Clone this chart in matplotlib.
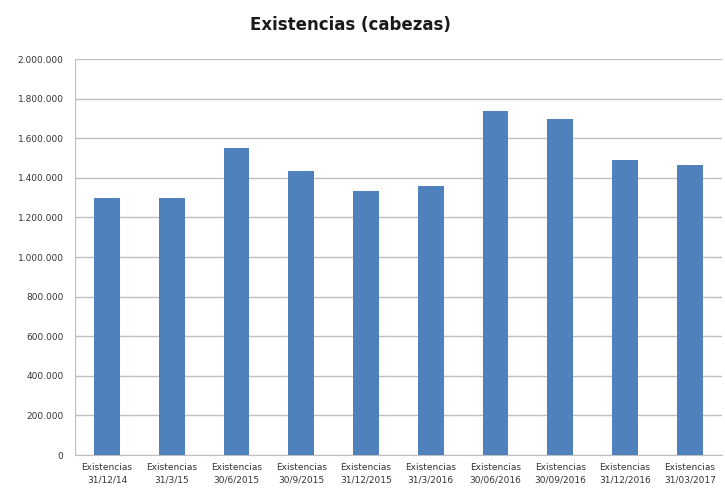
import matplotlib.pyplot as plt
from matplotlib.ticker import FuncFormatter

labels = ['Existencias\n31/12/14', 'Existencias\n31/3/15', 'Existencias\n30/6/2015',
          'Existencias\n30/9/2015', 'Existencias\n31/12/2015', 'Existencias\n31/3/2016',
          'Existencias\n30/06/2016', 'Existencias\n30/09/2016', 'Existencias\n31/12/2016',
          'Existencias\n31/03/2017']
heads = [1298000, 1300000, 1550000, 1434000, 1333000, 1360000,
         1737000, 1698000, 1490000, 1465000]

fig = plt.figure(figsize=(7.25, 4.92), dpi=100)
ax = fig.add_axes([0.103, 0.075, 0.893, 0.805])

x = range(len(heads))
ax.bar(x, heads, width=0.4, color='#4F81BD', zorder=3)

ax.set_xlim(-0.5, len(heads) - 0.5)
ax.set_ylim(0, 2000000)
ax.set_yticks(range(0, 2000001, 200000))
ax.yaxis.set_major_formatter(FuncFormatter(lambda v, p: f'{int(v):,}'.replace(',', '.')))
ax.grid(axis='y', color='#BFBFBF', linewidth=1, zorder=0)

ax.set_xticks(list(x))
ax.set_xticklabels(labels, fontsize=6.5, color='#333333', linespacing=1.45)
ax.tick_params(axis='y', labelsize=6.5, colors='#333333', length=0, pad=8)
ax.tick_params(axis='x', length=0, pad=6)

for s in ['top', 'right']:
    ax.spines[s].set_visible(False)
ax.spines['left'].set_color('#BFBFBF')
ax.spines['bottom'].set_color('#BFBFBF')

fig.text(0.484, 0.949, 'Existencias (cabezas)', fontsize=12, fontweight='bold',
         ha='center', va='center', color='#1a1a1a')

plt.savefig('out.png', dpi=100)
